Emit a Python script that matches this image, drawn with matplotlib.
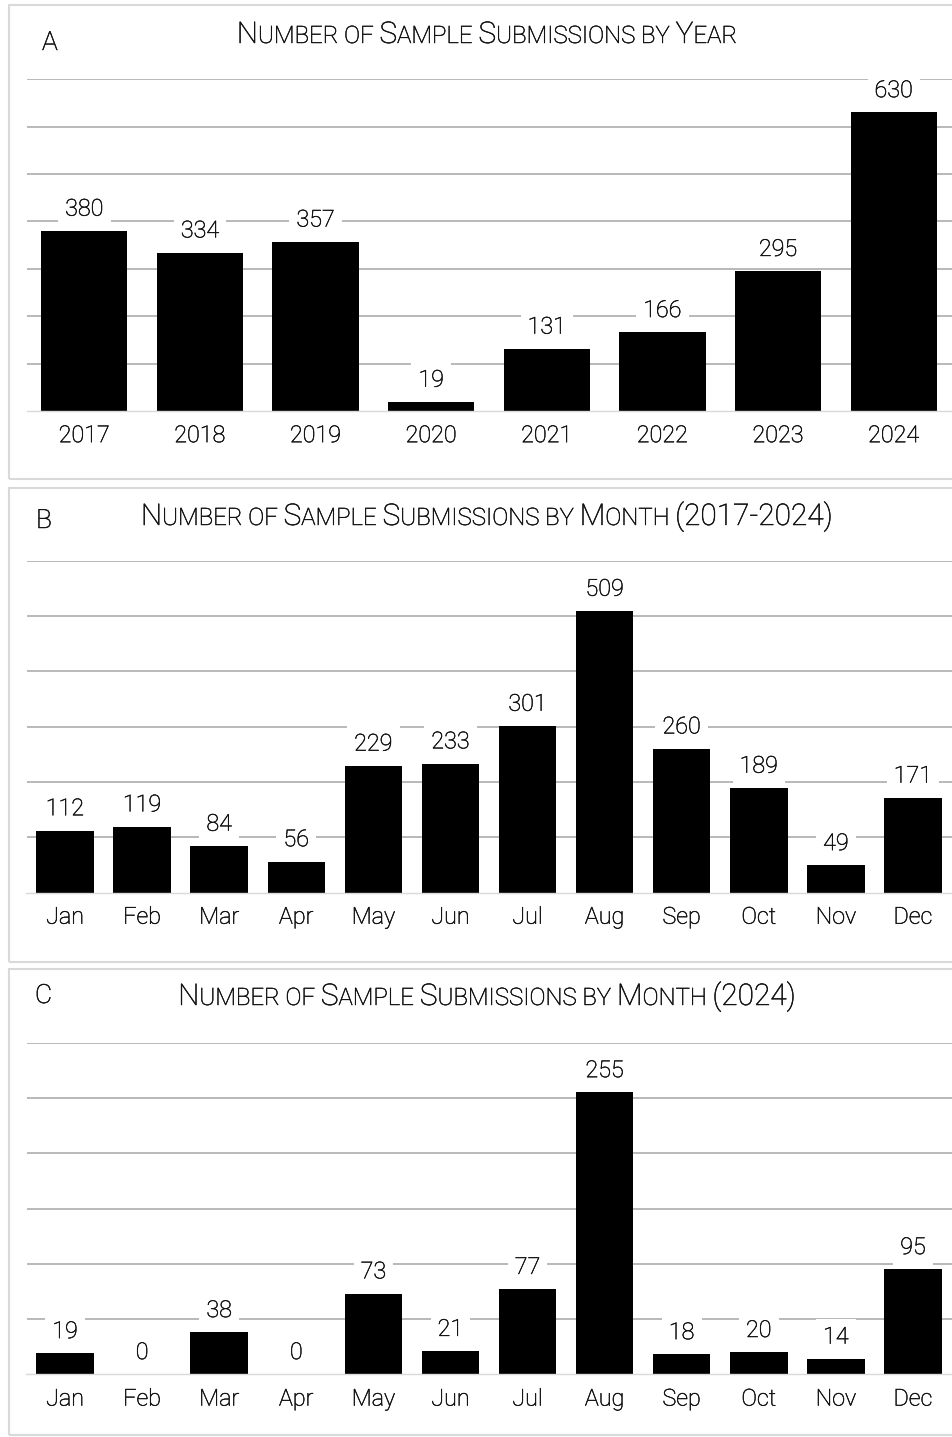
import numpy as np
import matplotlib
matplotlib.use('Agg')
import matplotlib.pyplot as plt
import matplotlib.patheffects as pe
from matplotlib.patches import Rectangle

plt.rcParams['font.family'] = ['Roboto', 'DejaVu Sans']
plt.rcParams['font.weight'] = 'light'
TXT = '#111111'
plt.rcParams['text.color'] = TXT
plt.rcParams['xtick.color'] = TXT

# data
years = ['2017', '2018', '2019', '2020', '2021', '2022', '2023', '2024']
year_counts = [380, 334, 357, 19, 131, 166, 295, 630]

months = ['Jan', 'Feb', 'Mar', 'Apr', 'May', 'Jun', 'Jul', 'Aug', 'Sep', 'Oct', 'Nov', 'Dec']
month_counts_all = [112, 119, 84, 56, 229, 233, 301, 509, 260, 189, 49, 171]
month_counts_2024 = [19, 0, 38, 0, 73, 21, 77, 255, 18, 20, 14, 95]

W, H = 952, 1437
fig = plt.figure(figsize=(W / 100, H / 100), dpi=100)
renderer = fig.canvas.get_renderer()

GRID = '#a6a6a6'
BORDER = '#d9d9d9'
# light font slightly thickened, closer to the reference weight
PE = [pe.withStroke(linewidth=0.35, foreground=TXT)]


def fx(px):
    return px / W


def fy(py):
    return 1 - py / H


def small_caps(text, cx, baseline, big=21.5, small=17.3):
    # fake small caps: capitals and digits big, lowercase drawn as small capitals
    words = text.split(' ')
    pieces = []
    probe = fig.text(0, 0, 'X X', fontsize=small)
    probe2 = fig.text(0, 0, 'XX', fontsize=small)
    space = probe.get_window_extent(renderer).width - probe2.get_window_extent(renderer).width
    probe.remove()
    probe2.remove()
    total = 0
    for wi, word in enumerate(words):
        runs = []
        for ch in word:
            size = small if ch.islower() else big
            if runs and runs[-1][1] == size:
                runs[-1][0] += ch.upper()
            else:
                runs.append([ch.upper(), size])
        for s, size in runs:
            t = fig.text(0, fy(baseline), s, fontsize=size, va='baseline', ha='left',
                         path_effects=PE)
            w = t.get_window_extent(renderer).width
            pieces.append((t, total))
            total += w
        if wi < len(words) - 1:
            total += space
    x0 = cx - total / 2
    for t, off in pieces:
        t.set_x(fx(x0 + off))


panels = [
    dict(labels=years, values=year_counts, ymax=700, step=100, top=79.3, bottom=411,
         title='Number of Sample Submissions by Year', letter='A',
         letter_xy=(42, 50), title_base=43, box=(5, 479)),
    dict(labels=months, values=month_counts_all, ymax=600, step=100, top=560.7, bottom=892.5,
         title='Number of Sample Submissions by Month (2017-2024)', letter='B',
         letter_xy=(36, 528), title_base=525, box=(488, 962)),
    dict(labels=months, values=month_counts_2024, ymax=300, step=50, top=1042.7, bottom=1374.4,
         title='Number of Sample Submissions by Month (2024)', letter='C',
         letter_xy=(35, 1003), title_base=1005, box=(969, 1435)),
]

ax_left, ax_right = 26.5, 951.5

for p in panels:
    top_b, bot_b = p['box']
    fig.patches.append(Rectangle((fx(9), fy(bot_b)), fx(1000), (bot_b - top_b) / H,
                                 transform=fig.transFigure, fill=False,
                                 edgecolor=BORDER, linewidth=1.5))

    ax = fig.add_axes([fx(ax_left), fy(p['bottom']), fx(ax_right - ax_left),
                       (p['bottom'] - p['top']) / H])
    n = len(p['labels'])
    x = np.arange(n)
    ax.bar(x, p['values'], width=0.745, color='black', zorder=2)
    ax.set_xlim(-0.5, n - 0.5)
    ax.set_ylim(0, p['ymax'])
    ax.set_yticks(np.arange(p['step'], p['ymax'] + 1, p['step']))
    ax.yaxis.grid(True, color=GRID, linewidth=1.1)
    ax.set_axisbelow(True)
    ax.tick_params(axis='y', left=False, labelleft=False)
    ax.tick_params(axis='x', length=0, pad=9.5, labelsize=16.8)
    ax.set_xticks(x)
    ax.set_xticklabels(p['labels'])
    for lbl in ax.get_xticklabels():
        lbl.set_path_effects(PE)
    for s in ['top', 'left', 'right']:
        ax.spines[s].set_visible(False)
    ax.spines['bottom'].set_color(BORDER)
    ax.spines['bottom'].set_linewidth(1.0)
    ax.spines['bottom'].set_zorder(3)

    for i, v in enumerate(p['values']):
        ax.annotate(str(v), xy=(i, v), xytext=(0, 11), textcoords='offset points',
                    ha='center', va='baseline', fontsize=16.8, zorder=4, path_effects=PE,
                    bbox=dict(boxstyle='square,pad=0.3', fc='white', ec='none'))

    lx, ly = p['letter_xy']
    fig.text(fx(lx), fy(ly), p['letter'], fontsize=19, va='baseline', ha='left',
             path_effects=PE)
    small_caps(p['title'], 487, p['title_base'])

fig.savefig('out.png', dpi=100)
